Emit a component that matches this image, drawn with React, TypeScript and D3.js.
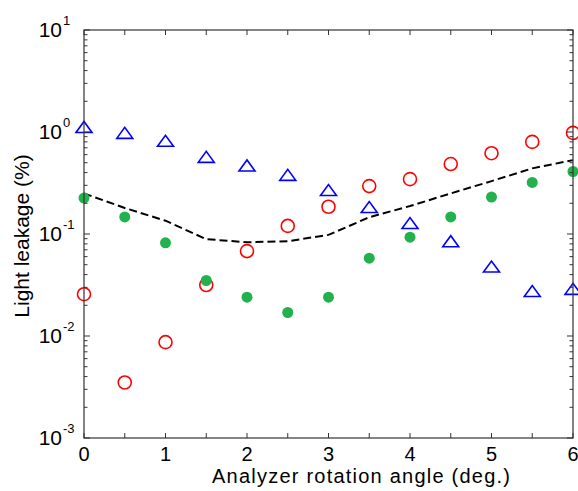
import React from "react"
import * as d3 from "d3"

// angles (deg.)
const angles = [0, 0.5, 1, 1.5, 2, 2.5, 3, 3.5, 4, 4.5, 5, 5.5, 6]

// light leakage (%) per series
const triangleSeries = [1.12, 0.98, 0.82, 0.57, 0.47, 0.38, 0.27, 0.184, 0.128, 0.085, 0.048, 0.0276, 0.029]
const circleSeries = [0.0257, 0.0035, 0.0087, 0.0316, 0.068, 0.12, 0.185, 0.295, 0.345, 0.485, 0.62, 0.8, 0.98]
const dotSeries = [0.225, 0.147, 0.082, 0.035, 0.024, 0.017, 0.024, 0.058, 0.093, 0.147, 0.23, 0.32, 0.41]
const dashedSeries = [0.25, 0.18, 0.135, 0.089, 0.083, 0.085, 0.098, 0.146, 0.188, 0.25, 0.33, 0.44, 0.53]

const xTicks = [0, 0.5, 1, 1.5, 2, 2.5, 3, 3.5, 4, 4.5, 5, 5.5, 6]
const xLabels = [0, 1, 2, 3, 4, 5, 6]
const yExponents = [-3, -2, -1, 0, 1]

export default function App() {
    const width = 578, height = 491
    const margin = { top: 30, left: 84, right: 5, bottom: 53 }
    const plotW = width - margin.left - margin.right
    const plotH = height - margin.top - margin.bottom

    const xScale = d3.scaleLinear().domain([0, 6]).range([0, plotW])
    const yScale = d3.scaleLog().domain([1e-3, 10]).range([plotH, 0])

    const minorY: number[] = []
    yExponents.slice(0, -1).forEach((e) => {
        for (let m = 2; m <= 9; m++) minorY.push(m * Math.pow(10, e))
    })

    const linePath = d3.line<number>()
        .x((d, i) => xScale(angles[i]))
        .y((d) => yScale(d))

    const font = "'Liberation Sans', Arial, sans-serif"
    const axisColor = "#333"

    const tri = (cx: number, cy: number) => {
        const w = 8, h = 5.5
        return `M${cx - w},${cy + h}L${cx + w},${cy + h}L${cx},${cy - h}Z`
    }

    return (
        <div style={{ position: "absolute", left: 0, top: 0 }}>
            <svg width={width} height={height} style={{ display: "block", background: "white" }}>
                <g transform={`translate(${margin.left},${margin.top})`}>
                    {/* dashed curve */}
                    <path d={linePath(dashedSeries) || ""} fill="none" stroke="black" strokeWidth={2}
                        strokeDasharray="8,4" />

                    {triangleSeries.map((v, i) => (
                        <path key={"t" + i} d={tri(xScale(angles[i]), yScale(v))} fill="none"
                            stroke="#0000ff" strokeWidth={1.6} />
                    ))}
                    {circleSeries.map((v, i) => (
                        <circle key={"c" + i} cx={xScale(angles[i])} cy={yScale(v)} r={6.5} fill="none"
                            stroke="#ff0000" strokeWidth={1.6} />
                    ))}
                    {dotSeries.map((v, i) => (
                        <circle key={"d" + i} cx={xScale(angles[i])} cy={yScale(v)} r={5.5} fill="#22b14c" />
                    ))}

                    {/* frame */}
                    <rect x={0} y={0} width={plotW} height={plotH} fill="none" stroke={axisColor} strokeWidth={1.2} />

                    {/* x ticks */}
                    {xTicks.map((t) => (
                        <g key={"xt" + t}>
                            <line x1={xScale(t)} x2={xScale(t)} y1={plotH} y2={plotH - 5} stroke={axisColor} />
                            <line x1={xScale(t)} x2={xScale(t)} y1={0} y2={5} stroke={axisColor} />
                        </g>
                    ))}
                    {xLabels.map((t) => (
                        <text key={"xl" + t} x={xScale(t)} y={plotH + 23} textAnchor="middle"
                            fontFamily={font} fontSize={20} fill="black">{t}</text>
                    ))}

                    {/* y ticks */}
                    {yExponents.map((e) => (
                        <g key={"ye" + e}>
                            <line x1={0} x2={6} y1={yScale(Math.pow(10, e))} y2={yScale(Math.pow(10, e))} stroke={axisColor} />
                            <line x1={plotW} x2={plotW - 6} y1={yScale(Math.pow(10, e))} y2={yScale(Math.pow(10, e))} stroke={axisColor} />
                            <text x={-22} y={yScale(Math.pow(10, e)) + 7} textAnchor="end" fontFamily={font}
                                fontSize={21} fill="black">10</text>
                            <text x={-21} y={yScale(Math.pow(10, e)) - 5} textAnchor="start" fontFamily={font}
                                fontSize={13} fill="black">{e}</text>
                        </g>
                    ))}
                    {minorY.map((v, i) => (
                        <g key={"my" + i}>
                            <line x1={0} x2={3.5} y1={yScale(v)} y2={yScale(v)} stroke={axisColor} />
                            <line x1={plotW} x2={plotW - 3.5} y1={yScale(v)} y2={yScale(v)} stroke={axisColor} />
                        </g>
                    ))}

                    {/* axis titles */}
                    <text x={128} y={plotH + 45} textAnchor="start" fontFamily={font} fontSize={20}
                        fill="black" textLength={298} lengthAdjust="spacing">Analyzer rotation angle  (deg.)</text>
                    <text transform={`translate(${-55},${plotH / 2 + 2}) rotate(-90)`} textAnchor="middle"
                        fontFamily={font} fontSize={21} fill="black">Light leakage (%)</text>
                </g>
            </svg>
        </div>
    )
}
